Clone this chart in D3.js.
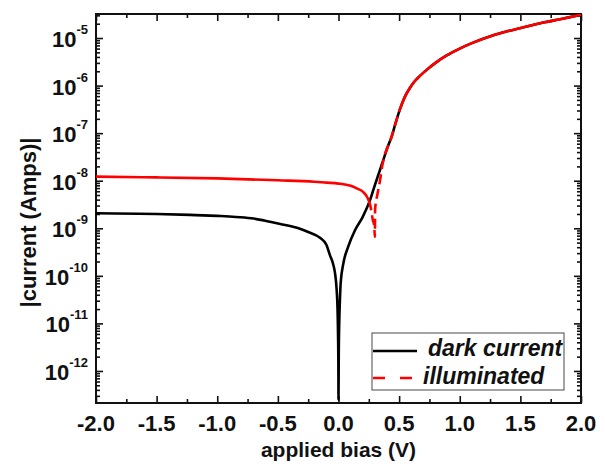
<!DOCTYPE html>
<html><head><meta charset="utf-8">
<script src="https://cdn.jsdelivr.net/npm/d3@7"></script>
<style>body{margin:0;background:#fff}svg{display:block}text{font-family:"Liberation Sans",Arial,sans-serif;font-weight:bold}</style>
</head><body><svg id="c" width="605" height="466"></svg>
<script>
// ---- data ----
const darkV = [-2.0,-1.5,-1.225,-1.0,-0.9,-0.81,-0.7,-0.565,-0.48,-0.342,-0.25,-0.153,-0.1,-0.07,-0.045,-0.029,-0.015,-0.008,-0.004,-0.001,0,0.002,0.006,0.012,0.018,0.04,0.08,0.136,0.2,0.26,0.3,0.34,0.369,0.40,0.441,0.47,0.507,0.55,0.59,0.62,0.65,0.727,0.8,0.892,1.0,1.1,1.277,1.4,1.552,1.7,1.827,2.0];
const darkI = [2.07e-9,2.0e-9,1.91e-9,1.82e-9,1.77e-9,1.71e-9,1.6e-9,1.37e-9,1.23e-9,1.02e-9,8.35e-10,6.3e-10,4.5e-10,2.7e-10,1.8e-10,1.15e-10,5.0e-11,2.0e-11,6.3e-12,1.26e-12,2.5e-13,2.0e-12,1.0e-11,3.2e-11,7.1e-11,1.82e-10,4.1e-10,9.1e-10,1.74e-9,3.9e-9,8.1e-9,1.62e-8,2.7e-8,4.7e-8,8.9e-8,1.6e-7,3.2e-7,6.0e-7,9.0e-7,1.16e-6,1.41e-6,2.14e-6,3.0e-6,4.3e-6,6.0e-6,7.8e-6,1.15e-5,1.40e-5,1.74e-5,2.14e-5,2.48e-5,3.1e-5];
const illumV = [-2.0,-1.5,-1.0,-0.5,-0.2,-0.1,0.0,0.1,0.15,0.2,0.235,0.25,0.265,0.276,0.285,0.29,0.295,0.30,0.302,0.32,0.342,0.36,0.38,0.40,0.441,0.47,0.507,0.55,0.59,0.62,0.65,0.727,0.8,0.892,1.0,1.1,1.277,1.4,1.552,1.7,1.827,2.0];
const illumI = [1.22e-8,1.175e-8,1.12e-8,1.02e-8,9.5e-9,9.1e-9,8.7e-9,7.8e-9,6.9e-9,5.9e-9,4.6e-9,3.8e-9,2.8e-9,1.9e-9,1.41e-9,1.32e-9,1.07e-9,6.6e-10,2.5e-9,5.0e-9,1.0e-8,2.0e-8,3.4e-8,4.7e-8,8.9e-8,1.6e-7,3.2e-7,6.0e-7,9.0e-7,1.16e-6,1.41e-6,2.14e-6,3.0e-6,4.3e-6,6.0e-6,7.8e-6,1.15e-5,1.40e-5,1.74e-5,2.14e-5,2.48e-5,3.1e-5];
const xMajor = [-2.0,-1.5,-1.0,-0.5,0.0,0.5,1.0,1.5,2.0];
const xMinor = [-1.75,-1.25,-0.75,-0.25,0.25,0.75,1.25,1.75];
const yMajorExp = [-12,-11,-10,-9,-8,-7,-6,-5];
const seriesNames = ["dark current","illuminated"];
const xTitle = "applied bias (V)";
const yTitle = "|current (Amps)|";

// ---- layout ----
const L=96,R=581,T=14,B=403;
const svg = d3.select("#c");
const x = d3.scaleLinear().domain([-2,2]).range([L,R]);
const y = d3.scaleLog().domain([2.12e-13,3.2e-5]).range([B,T]);

const yMajor = yMajorExp.map(e=>Math.pow(10,e));
const yMinor = y.ticks().filter(v=>{const m=v/Math.pow(10,Math.floor(Math.log10(v)+1e-9)); return Math.abs(m-1)>1e-6;});

function drawAxis(g, axis){ g.call(axis); g.selectAll(".domain").remove(); g.selectAll("line").attr("stroke","#111").attr("stroke-width",1.6); }

drawAxis(svg.append("g").attr("transform",`translate(0,${B})`), d3.axisBottom(x).tickValues(xMajor).tickSize(-7).tickFormat(""));
drawAxis(svg.append("g").attr("transform",`translate(0,${B})`), d3.axisBottom(x).tickValues(xMinor).tickSize(-4).tickFormat(""));
drawAxis(svg.append("g").attr("transform",`translate(0,${T})`), d3.axisTop(x).tickValues(xMajor).tickSize(-7).tickFormat(""));
drawAxis(svg.append("g").attr("transform",`translate(0,${T})`), d3.axisTop(x).tickValues(xMinor).tickSize(-4).tickFormat(""));
drawAxis(svg.append("g").attr("transform",`translate(${L},0)`), d3.axisLeft(y).tickValues(yMajor).tickSize(-7).tickFormat(""));
drawAxis(svg.append("g").attr("transform",`translate(${L},0)`), d3.axisLeft(y).tickValues(yMinor).tickSize(-4).tickFormat(""));
drawAxis(svg.append("g").attr("transform",`translate(${R},0)`), d3.axisRight(y).tickValues(yMajor).tickSize(-7).tickFormat(""));
drawAxis(svg.append("g").attr("transform",`translate(${R},0)`), d3.axisRight(y).tickValues(yMinor).tickSize(-4).tickFormat(""));

svg.append("rect").attr("x",L).attr("y",T).attr("width",R-L).attr("height",B-T).attr("fill","none").attr("stroke","#111").attr("stroke-width",2);

svg.append("g").selectAll("text").data(xMajor).join("text")
  .attr("x",d=>x(d)).attr("y",B+28).attr("text-anchor","middle").attr("font-size",22).attr("fill","#111")
  .text(d=>d.toFixed(1));
const yl = svg.append("g").selectAll("text").data(yMajorExp).join("text")
  .attr("x",88).attr("y",d=>y(Math.pow(10,d))+9).attr("text-anchor","end").attr("font-size",22).attr("fill","#111");
yl.append("tspan").text("10");
yl.append("tspan").attr("dy",-13).attr("font-size",13).text(d=>String(d));

svg.append("text").attr("x",(L+R)/2).attr("y",457).attr("text-anchor","middle").attr("font-size",21).attr("fill","#111").text(xTitle);
svg.append("text").attr("transform",`translate(36,${(T+B)/2+14}) rotate(-90)`).attr("text-anchor","middle").attr("font-size",22).attr("fill","#111").text(yTitle);

svg.append("clipPath").attr("id","pc").append("rect").attr("x",L).attr("y",T).attr("width",R-L).attr("height",B-T);
const dark = darkV.map((v,i)=>[v,darkI[i]]);
const illum = illumV.map((v,i)=>[v,illumI[i]]);
const line = d3.line().x(d=>x(d[0])).y(d=>y(d[1])).curve(d3.curveMonotoneX);
const pg = svg.append("g").attr("clip-path","url(#pc)");
pg.append("path").attr("d",line(dark)).attr("fill","none").attr("stroke","#000").attr("stroke-width",2.6).attr("stroke-linejoin","round");
pg.append("path").attr("d",line(illum.filter(d=>d[0]<=0.25))).attr("fill","none").attr("stroke","#f00").attr("stroke-width",2.6).attr("stroke-linejoin","round");
pg.append("path").attr("d",line(illum.filter(d=>d[0]>=0.25&&d[0]<=0.507))).attr("fill","none").attr("stroke","#f00").attr("stroke-width",2.6).attr("stroke-dasharray","10,5");
pg.append("path").attr("d",line(illum.filter(d=>d[0]>=0.507))).attr("fill","none").attr("stroke","#f00").attr("stroke-width",2.6).attr("stroke-linejoin","round");

const lg = svg.append("g");
lg.append("rect").attr("x",372).attr("y",333).attr("width",192).attr("height",57).attr("fill","#fff").attr("stroke","#666").attr("stroke-width",1.2);
lg.append("line").attr("x1",373).attr("x2",417).attr("y1",351).attr("y2",351).attr("stroke","#000").attr("stroke-width",2.6);
lg.append("line").attr("x1",373).attr("x2",417).attr("y1",378).attr("y2",378).attr("stroke","#f00").attr("stroke-width",2.6).attr("stroke-dasharray","12,15");
lg.append("text").attr("x",428).attr("y",356).attr("font-size",23).attr("font-style","italic").attr("fill","#111").text(seriesNames[0]);
lg.append("text").attr("x",423).attr("y",384).attr("font-size",23).attr("font-style","italic").attr("fill","#111").text(seriesNames[1]);
</script></body></html>
